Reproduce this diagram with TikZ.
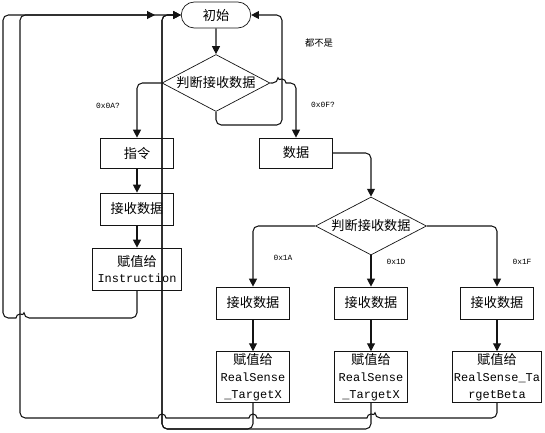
\documentclass[tikz,border=0pt]{standalone}
\usepackage{fontspec}
\setmainfont{Noto Sans CJK SC}
\setmonofont{Liberation Mono}
\usepackage{tikz}
\usetikzlibrary{positioning, arrows.meta, shapes.geometric, shapes.misc}
\definecolor{linea}{RGB}{20, 20, 20}
\newcommand{\lat}[1]{{\ttfamily\fontsize{6.8}{9.6}\selectfont #1}}
\tikzset{
    term/.style={draw=linea, rounded rectangle, fill=white, minimum width=1.46cm, minimum height=0.52cm, inner sep=1pt, font=\fontsize{7.5}{9}\selectfont},
    proc/.style={draw=linea, rectangle, fill=white, minimum width=1.46cm, minimum height=0.62cm, inner sep=1pt, align=center, font=\fontsize{7.5}{9.6}\selectfont},
    deci/.style={draw=linea, diamond, fill=white, aspect=1.9, inner sep=0pt, minimum width=2.16cm, minimum height=1.14cm, font=\fontsize{7.5}{9}\selectfont},
    conn/.style={-{Triangle[length=4.5pt, width=4.5pt]}, linea, line width=0.6pt, rounded corners=3pt},
    lbl/.style={font=\ttfamily\fontsize{4.5}{5}\selectfont, inner sep=0pt},
}

\begin{document}
\begin{tikzpicture}[x=0.02cm, y=-0.02cm]
    \useasboundingbox (0,0) rectangle (545,433);

    \node[term] (start) at (216,15) {初始};
    \node[deci] (dec1) at (216,83) {判断接收数据};

    % left branch
    \node[proc, minimum height=0.6cm] (cmd) at (137,153) {指令};
    \node[proc, minimum height=0.64cm] (recvA) at (137,209) {接收数据};
    \node[proc, minimum width=1.78cm, minimum height=0.84cm] (setIns) at (137,269) {赋值给\\\lat{Instruction}};

    % right branch
    \node[proc, minimum height=0.6cm] (data) at (296,153) {数据};
    \node[deci, minimum width=2.22cm, minimum height=1.16cm] (dec2) at (371,226) {判断接收数据};

    \node[proc, minimum height=0.64cm] (recv1) at (253,303) {接收数据};
    \node[proc, minimum height=0.64cm] (recv2) at (371,303) {接收数据};
    \node[proc, minimum height=0.64cm] (recv3) at (497,303) {接收数据};

    \node[proc, minimum height=1cm] (set1) at (253,377) {赋值给\\\lat{RealSense}\\\lat{\_TargetX}};
    \node[proc, minimum height=1cm] (set2) at (371,377) {赋值给\\\lat{RealSense}\\\lat{\_TargetX}};
    \node[proc, minimum width=1.78cm, minimum height=1cm] (set3) at (497,377) {赋值给\\\lat{RealSense\_Ta}\\\lat{rgetBeta}};

    \coordinate (join) at (155,15);

    % labels
    \node[lbl] (l0a) at (108,106) {0x0A?};
    \node[lbl] (l0f) at (323,105) {0x0F?};
    \node[lbl, font=\fontsize{5.3}{6}\selectfont] (lnone) at (319,43) {都不是};
    \node[lbl] (l1a) at (283,258) {0x1A};
    \node[lbl] (l1d) at (396,262) {0x1D};
    \node[lbl] (l1f) at (522,262) {0x1F};

    \draw[conn] (start) -- (dec1);
    \draw[conn] (dec1.west) -| (cmd.north);
    \draw[conn] (dec1.south) -- (216,125) -- (282,125) -- (282,15) -- (start.east);
    \draw[conn] (dec1.east) -- (278,83) [sharp corners] arc[start angle=180, end angle=360, radius=4] [rounded corners=3pt] -- (296,83) -- (data.north);

    \draw[conn] (cmd) -- (recvA);
    \draw[conn] (recvA) -- (setIns);

    \draw[conn] (data.east) -| (dec2.north);
    \draw[conn] (dec2.west) -| (recv1.north);
    \draw[conn] (dec2) -- (recv2);
    \draw[conn] (dec2.east) -| (recv3.north);

    \draw[conn] (recv1) -- (set1);
    \draw[conn] (recv2) -- (set2);
    \draw[conn] (recv3) -- (set3);

    % back to the start
    \draw[conn] (set1.south) -- (253,429) -- (162,429) -- (162,15) -- (start.west);
    \draw[conn] (set2.south) -- (371,429) -- (162,429) -- (162,15) -- (start.west);
    \draw[conn] (set3.south) -- (497,418) -- (375,418) [sharp corners] arc[start angle=0, end angle=-180, radius=4] -- (257,418) arc[start angle=0, end angle=-180, radius=4] -- (166,418) arc[start angle=0, end angle=-180, radius=4] [rounded corners=3pt] -- (20,418) -- (20,15) -- (start.west);
    \draw[conn] (setIns.south) -- (137,318) -- (24,318) [sharp corners] arc[start angle=0, end angle=-180, radius=4] [rounded corners=3pt] -- (3,318) -- (3,15) -- (join);
\end{tikzpicture}
\end{document}
